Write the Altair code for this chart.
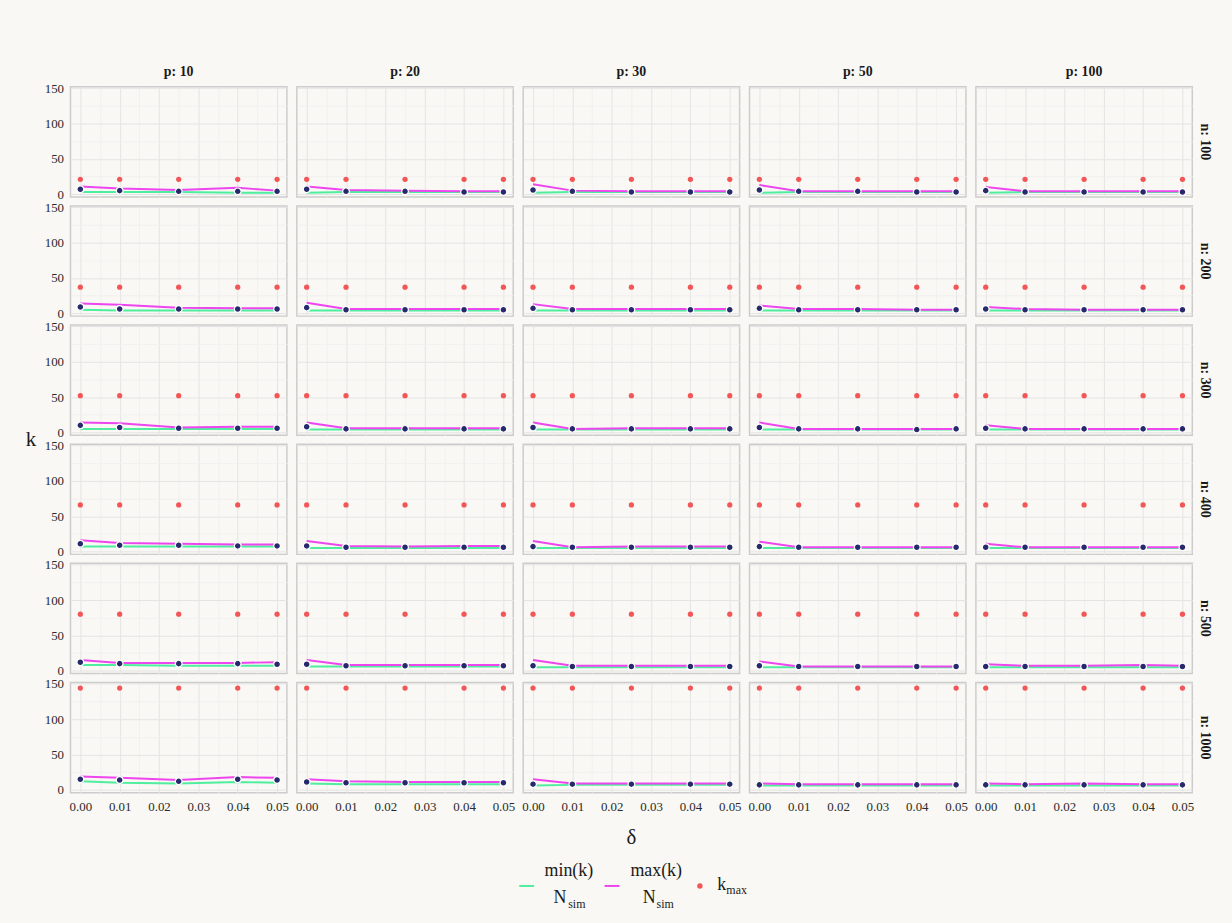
import altair as alt
import pandas as pd

# ---------------- data ----------------
NS = [100, 200, 300, 400, 500, 1000]
PS = [10, 20, 30, 50, 100]
DELTAS = [0.0, 0.01, 0.025, 0.04, 0.05]
K_UPPER = [21, 37, 52, 66, 80, 144]          # k_max per n

# selected k (navy points): K_SEL[n] -> one list per p, over DELTAS
K_SEL = {
    100:  [[7, 5, 4, 4, 4], [7, 4, 4, 3, 3], [6, 4, 3, 3, 3], [6, 4, 4, 3, 3], [5, 3, 3, 3, 3]],
    200:  [[9, 6, 6, 6, 6], [8, 5, 5, 5, 5], [7, 5, 5, 5, 5], [7, 5, 5, 5, 5], [6, 5, 5, 5, 5]],
    300:  [[10, 7, 6, 6, 6], [8, 5, 5, 5, 5], [7, 5, 5, 5, 5], [7, 5, 5, 4, 5], [6, 5, 5, 5, 5]],
    400:  [[11, 9, 9, 8, 8], [8, 6, 6, 6, 6], [7, 6, 6, 6, 6], [7, 6, 6, 6, 6], [6, 6, 6, 6, 6]],
    500:  [[12, 10, 10, 10, 9], [9, 7, 7, 7, 7], [7, 6, 6, 6, 6], [7, 6, 6, 6, 6], [6, 6, 6, 6, 6]],
    1000: [[15, 14, 12, 15, 14], [11, 10, 10, 10, 10], [8, 8, 8, 8, 8], [7, 7, 7, 7, 7], [7, 7, 7, 7, 7]],
}
# min(k)/N_sim (green line)
K_MIN = {
    100:  [[3, 3, 3, 2, 2], [2, 3, 3, 3, 3], [2, 3, 3, 3, 3], [2, 3, 3, 3, 3], [2, 3, 3, 3, 3]],
    200:  [[5, 4, 4, 4, 4], [4, 4, 4, 4, 4], [4, 4, 4, 4, 4], [4, 4, 4, 4, 4], [4, 4, 4, 4, 4]],
    300:  [[5, 5, 5, 5, 5], [4, 4, 4, 4, 4], [4, 4, 4, 4, 4], [4, 4, 4, 4, 4], [4, 4, 4, 4, 4]],
    400:  [[7, 7, 7, 7, 7], [5, 5, 5, 5, 5], [5, 5, 5, 5, 5], [5, 5, 5, 5, 5], [5, 5, 5, 5, 5]],
    500:  [[8, 8, 7, 7, 7], [6, 6, 6, 6, 6], [5, 5, 5, 5, 5], [5, 5, 5, 5, 5], [5, 5, 5, 5, 5]],
    1000: [[12, 10, 9, 11, 10], [9, 8, 8, 8, 8], [6, 7, 7, 7, 7], [6, 6, 6, 6, 6], [6, 6, 6, 6, 6]],
}
# max(k)/N_sim (magenta line)
K_MAXSIM = {
    100:  [[11, 8, 6, 9, 5], [11, 6, 5, 4, 4], [14, 5, 4, 4, 4], [13, 4, 4, 4, 4], [10, 4, 4, 4, 4]],
    200:  [[14, 12, 8, 7, 7], [15, 6, 6, 6, 6], [13, 6, 6, 6, 6], [11, 6, 6, 5, 5], [9, 6, 5, 5, 5]],
    300:  [[14, 13, 7, 8, 8], [14, 6, 6, 6, 6], [14, 5, 6, 6, 6], [14, 5, 5, 5, 5], [10, 5, 5, 5, 5]],
    400:  [[16, 12, 11, 10, 10], [15, 8, 7, 8, 8], [15, 6, 7, 7, 7], [14, 6, 6, 6, 6], [11, 6, 6, 6, 6]],
    500:  [[15, 11, 11, 11, 12], [15, 8, 8, 8, 8], [15, 7, 7, 7, 7], [13, 6, 6, 6, 6], [9, 7, 7, 8, 7]],
    1000: [[19, 17, 14, 18, 17], [15, 12, 11, 11, 11], [15, 9, 9, 9, 9], [9, 8, 8, 8, 8], [9, 8, 9, 8, 8]],
}

N_LABS = [f"n: {n}" for n in NS]
P_LABS = [f"p: {p}" for p in PS]

rows = []
for i, n in enumerate(NS):
    for j, p in enumerate(PS):
        for k, d in enumerate(DELTAS):
            rows.append({
                "n_lab": N_LABS[i], "p_lab": P_LABS[j], "delta": d,
                "ksel": K_SEL[n][j][k], "kmin": K_MIN[n][j][k],
                "kmaxsim": K_MAXSIM[n][j][k], "kupper": K_UPPER[i],
            })
df = pd.DataFrame(rows)

# ---------------- style ----------------
SERIF = "Liberation Serif"
BG = "#F9F8F4"
GREEN = "#4FEE9E"
MAGENTA = "#EE46EE"
RED = "#F25656"
NAVY = "#262A6C"
TXT = "#1a1a1a"
LAB = "#2b2b2b"

XV = [0.0, 0.005, 0.01, 0.015, 0.02, 0.025, 0.03, 0.035, 0.04, 0.045, 0.05]
YV = [0, 25, 50, 75, 100, 125, 150]

x_enc = alt.X(
    "delta:Q",
    scale=alt.Scale(domain=[-0.0025, 0.0525], nice=False, zero=False),
    axis=alt.Axis(
        values=XV, title=None, ticks=False, tickSize=0, domain=False, minExtent=0,
        labelExpr="(round(datum.value*1000) % 10 == 0) ? format(datum.value, '.2f') : ''",
        gridColor={"condition": {"test": "round(datum.value*1000) % 10 == 0", "value": "#E4E4E4"}, "value": "#EEEEEE"},
        gridWidth={"condition": {"test": "round(datum.value*1000) % 10 == 0", "value": 1}, "value": 0.8},
        labelPadding=7, labelFont=SERIF, labelFontSize=13, labelColor=LAB,
    ),
)


def y_enc(field):
    return alt.Y(
        f"{field}:Q",
        scale=alt.Scale(domain=[-4, 152], nice=False, zero=False),
        axis=alt.Axis(
            values=YV, title=None, ticks=False, tickSize=0, domain=False, minExtent=0,
            labelExpr="datum.value % 50 == 0 ? datum.label : ''",
            gridColor={"condition": {"test": "datum.value % 50 == 0", "value": "#E4E4E4"}, "value": "#EEEEEE"},
            gridWidth={"condition": {"test": "datum.value % 50 == 0", "value": 1}, "value": 0.8},
            labelPadding=6, labelFont=SERIF, labelFontSize=13, labelColor=LAB,
        ),
    )


base = alt.Chart(df)
l_min = base.mark_line(color=GREEN, strokeWidth=2).encode(x=x_enc, y=y_enc("kmin"))
l_max = base.mark_line(color=MAGENTA, strokeWidth=2).encode(x=x_enc, y=y_enc("kmaxsim"))
p_up = base.mark_circle(color=RED, size=28, opacity=1).encode(x=x_enc, y=y_enc("kupper"))
p_sel = base.mark_point(filled=True, fill=NAVY, stroke="white", strokeWidth=1.2,
                        size=46, opacity=1).encode(x=x_enc, y=y_enc("ksel"))

layer = alt.layer(l_min, l_max, p_up, p_sel).properties(width=218, height=111)

facet = layer.facet(
    row=alt.Row(
        "n_lab:N", sort=N_LABS,
        header=alt.Header(
            title="k", titleOrient="left", titleAngle=0, titleFont=SERIF, titleFontSize=21,
            titleFontWeight="normal", titleColor=TXT, titlePadding=-13,
            labelOrient="right", labelAngle=90, labelFont=SERIF, labelFontSize=14,
            labelFontWeight="bold", labelColor=TXT, labelPadding=5,
        ),
    ),
    column=alt.Column(
        "p_lab:N", sort=P_LABS,
        header=alt.Header(
            title="δ", titleOrient="bottom", titleFont=SERIF, titleFontSize=21,
            titleFontWeight="normal", titleColor=TXT, titlePadding=4,
            labelOrient="top", labelFont=SERIF, labelFontSize=14,
            labelFontWeight="bold", labelColor=TXT, labelPadding=7,
        ),
    ),
    spacing={"row": 6, "column": 8},
)

# ---------------- custom legend ----------------
OX = 67   # assumed left origin of legend chart on the page
OY = 851  # assumed top origin of legend chart on the page
leg_src = alt.Chart(pd.DataFrame({"d": [0]}))


def px(x):
    return alt.value(x - OX)


def py(y):
    return alt.value(y - OY)


def txt(s, x, y, size):
    return leg_src.mark_text(text=s, font=SERIF, fontSize=size, color=TXT,
                             align="center", baseline="middle").encode(x=px(x), y=py(y))


legend = alt.layer(
    leg_src.mark_rule(color=GREEN, strokeWidth=2).encode(x=px(519), x2=px(534), y=py(885)),
    txt("min(k)", 569, 870, 18),
    txt("N", 560, 897, 18),
    txt("sim", 577, 903, 12),
    leg_src.mark_rule(color=MAGENTA, strokeWidth=2).encode(x=px(605), x2=px(620), y=py(885)),
    txt("max(k)", 657, 870, 18),
    txt("N", 650, 897, 18),
    txt("sim", 666, 903, 12),
    leg_src.mark_circle(color=RED, size=30, opacity=1).encode(x=px(701), y=py(885)),
    txt("k", 723, 884, 18),
    txt("max", 738, 889, 12),
).properties(width=1100, height=81, view=alt.ViewBackground(stroke=None))

chart = alt.vconcat(facet, legend, spacing=4).properties(
    background=BG,
    padding={"left": 26, "top": 62, "right": 20, "bottom": 3},
).configure_view(
    stroke="#CCCCCC", strokeWidth=1.5,
).configure_axis(
    labelFont=SERIF, labelFontSize=13, labelColor=LAB,
)

chart.save("out.html", embed_options={"renderer": "svg", "actions": False})
